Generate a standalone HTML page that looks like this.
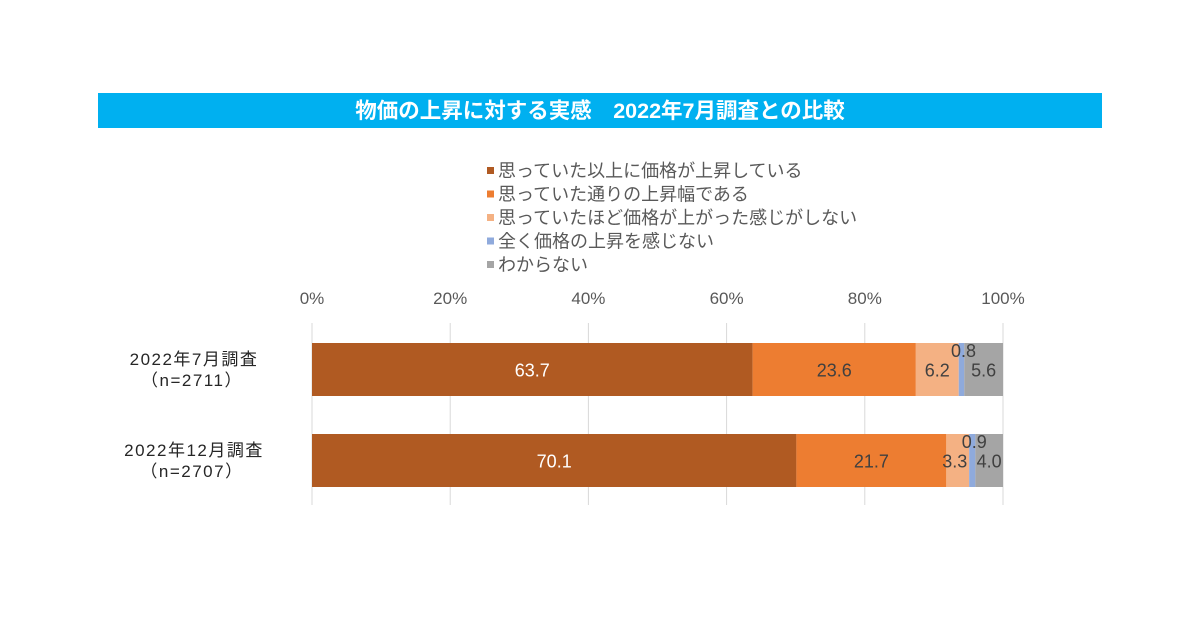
<!DOCTYPE html>
<html><head><meta charset="utf-8"><style>
body{margin:0;width:1200px;height:630px;background:#fff;overflow:hidden;font-family:"Liberation Sans","Noto Sans CJK JP",sans-serif;}
</style></head><body>
<svg id="chart" width="1200" height="630" xmlns="http://www.w3.org/2000/svg" font-family="Liberation Sans, Noto Sans CJK JP, sans-serif">
<rect x="98" y="93" width="1004" height="35" fill="#00b0f0"/>
<text x="600" y="118" text-anchor="middle" fill="#fff" font-size="21.5" font-weight="bold">物価の上昇に対する実感　2022年7月調査との比較</text>
<g id="grid"></g>
<g id="ticks"></g>
<g id="bars"></g>
<g id="labels"></g>
<g id="legend"></g>
<g id="cats"></g>
</svg>
<script>
const categories=["2022年7月調査","2022年12月調査"];
const sampleSizes=["（n=2711）","（n=2707）"];
const seriesNames=["思っていた以上に価格が上昇している","思っていた通りの上昇幅である","思っていたほど価格が上がった感じがしない","全く価格の上昇を感じない","わからない"];
const s1=[63.7,70.1];
const s2=[23.6,21.7];
const s3=[6.2,3.3];
const s4=[0.8,0.9];
const s5=[5.6,4.0];
const tickLabels=["0%","20%","40%","60%","80%","100%"];
const tickValues=[0,20,40,60,80,100];
const colors=["#b05a22","#ed7d31","#f4b183","#8faadc","#a5a5a5"];
const series=[s1,s2,s3,s4,s5];
const NS="http://www.w3.org/2000/svg";
const x0=312,x1=1003;
function xs(v){return x0+(x1-x0)*v/100;}
const barTop=[343,434],barH=53;
function mk(t,a,p){const e=document.createElementNS(NS,t);for(const k in a)e.setAttribute(k,a[k]);p.appendChild(e);return e;}
const g=document.getElementById('grid'),tk=document.getElementById('ticks'),b=document.getElementById('bars'),lb=document.getElementById('labels'),lg=document.getElementById('legend'),ct=document.getElementById('cats');
tickValues.forEach((v,i)=>{
 const l=mk('line',{x1:xs(v),x2:xs(v),y1:323,y2:505,stroke:'#d9d9d9','stroke-width':1},g);
 
 
 const t=mk('text',{x:xs(v),y:304,'text-anchor':'middle','font-size':17,fill:'#595959'},tk);
 t.textContent=tickLabels[i];
 
 
});
categories.forEach((c,ci)=>{
 let total=series.reduce((a,s)=>a+s[ci],0);
 let acc=0;
 series.forEach((s,si)=>{
  const v=s[ci]*100/total;
  const xa=xs(acc),xb=xs(acc+v);
  const r=mk('rect',{x:xa,y:barTop[ci],width:xb-xa,height:barH,fill:colors[si]},b);
  
  
  const t=mk('text',{'text-anchor':'middle','font-size':18,fill:si==0?'#fff':'#404040'},lb);
  let cx=(xa+xb)/2,cy=barTop[ci]+barH/2+7;
  if(s[ci]<2){cy=barTop[ci]+14;cx=cx+2;}
  if(si==2&&s[ci]<5)cx-=3;
  t.setAttribute('x',cx);t.setAttribute('y',cy);
  t.textContent=s[ci].toFixed(1);
  
  
  acc+=v;
 });
 const t1=mk('text',{x:194,y:barTop[ci]+22,'text-anchor':'middle','font-size':17,fill:'#262626','letter-spacing':'1.5'},ct);
 t1.textContent=c;
 
 
 const t2=mk('text',{x:192,y:barTop[ci]+43,'text-anchor':'middle','font-size':17,fill:'#262626','letter-spacing':'1.5'},ct);
 t2.textContent=sampleSizes[ci];
 
 
});
seriesNames.forEach((n,i)=>{
 const y=171+i*23.5;
 const r=mk('rect',{x:487,y:y-4,width:7,height:7,fill:colors[i]},lg);
 
 
 const t=mk('text',{x:498,y:y+6,'font-size':18,fill:'#595959'},lg);
 t.textContent=n;
 
 
});
</script>
</body></html>
